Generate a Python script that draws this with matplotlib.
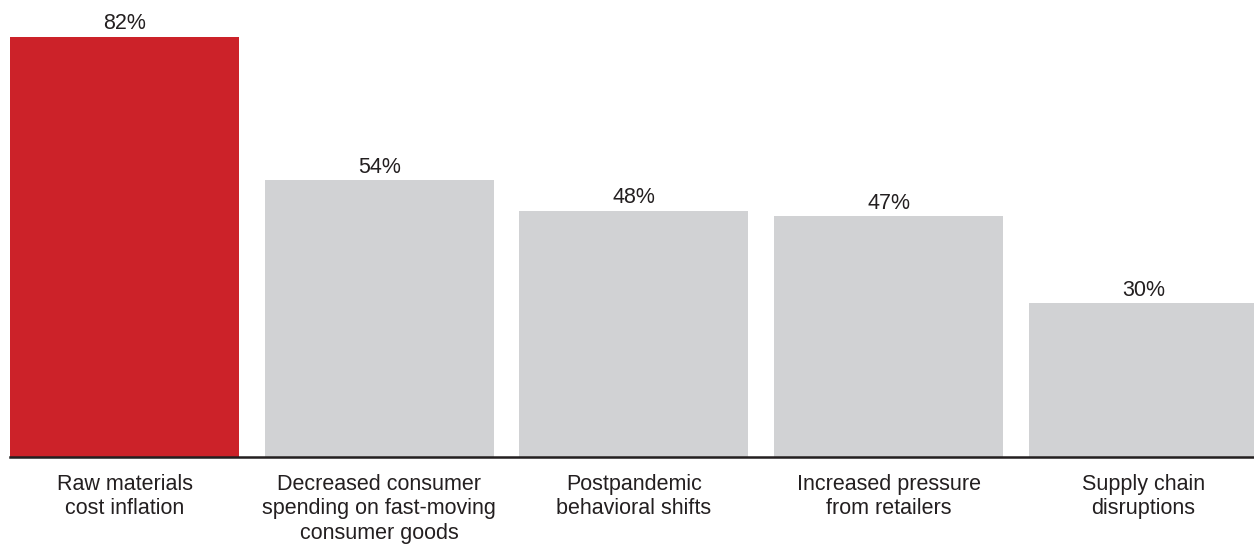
import matplotlib.pyplot as plt

categories = [
    "Raw materials\ncost inflation",
    "Decreased consumer\nspending on fast-moving\nconsumer goods",
    "Postpandemic\nbehavioral shifts",
    "Increased pressure\nfrom retailers",
    "Supply chain\ndisruptions",
]
values = [82, 54, 48, 47, 30]
colors = ["#cc2229", "#d1d2d4", "#d1d2d4", "#d1d2d4", "#d1d2d4"]

plt.rcParams['font.family'] = ['Liberation Sans', 'DejaVu Sans']

fig = plt.figure(figsize=(12.54, 5.46), dpi=100)
ax = fig.add_axes([10 / 1254, 89 / 546, 1244 / 1254, 457 / 546])

x = list(range(len(values)))
bars = ax.bar(x, values, width=0.899, color=colors)

for i, v in enumerate(values):
    ax.annotate(f"{v}%", (i, v), textcoords="offset points", xytext=(0, 2),
                ha='center', va='bottom', fontsize=15.5, color="#231f20")

ax.set_xlim(-0.4495, 4.434)
ax.set_ylim(0, 89.25)
ax.set_xticks(x)
ax.set_xticklabels(categories, fontsize=15.5, color="#231f20", linespacing=1.22)
ax.tick_params(axis='x', length=0, pad=12)
ax.set_yticks([])

for side in ['top', 'right', 'left']:
    ax.spines[side].set_visible(False)
ax.spines['bottom'].set_color("#231f20")
ax.spines['bottom'].set_linewidth(1.8)

fig.savefig("out.png", dpi=100)
